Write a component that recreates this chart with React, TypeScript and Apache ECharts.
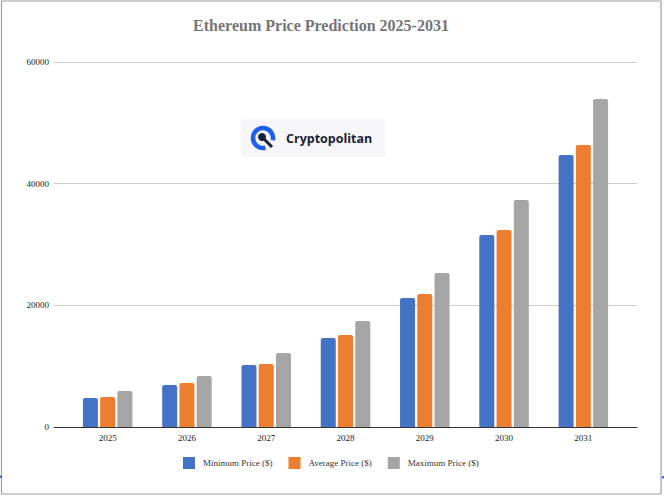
import React, { useEffect, useRef } from "react";
import * as echarts from "echarts";

const categories = ["2025", "2026", "2027", "2028", "2029", "2030", "2031"];
const minPrice = [4770, 6900, 10190, 14630, 21210, 31560, 44720];
const avgPrice = [4930, 7230, 10360, 15120, 21860, 32380, 46360];
const maxPrice = [5920, 8380, 12170, 17430, 25320, 37320, 53920];
const seriesNames = ["Minimum Price ($)", "Average Price ($)", "Maximum Price ($)"];
const colors = ["#4472C4", "#ED7D31", "#A5A5A5"];

export default function App() {
  const ref = useRef<HTMLDivElement>(null);
  useEffect(() => {
    if (!ref.current) return;
    const chart = echarts.init(ref.current, undefined, { renderer: "svg" });
    const serif = "'Liberation Serif', 'Times New Roman', serif";
    const yCommon = { type: "value", min: 0, max: 60000, interval: 20000 };
    const barSeries = [minPrice, avgPrice, maxPrice].map((d, i) => ({
      name: seriesNames[i],
      type: "bar",
      xAxisIndex: 1,
      yAxisIndex: 1,
      data: d,
      barWidth: 15,
      barGap: "15%",
      itemStyle: { color: colors[i], borderRadius: [2, 2, 0, 0] },
    }));
    chart.setOption({
      animation: false,
      backgroundColor: "#ffffff",
      title: {
        text: "Ethereum Price Prediction 2025-2031",
        left: 316,
        top: 12,
        textAlign: "center",
        textStyle: { fontFamily: serif, fontSize: 16, fontWeight: "bold", color: "#757575" },
      },
      legend: {
        data: seriesNames,
        left: 178,
        top: 452,
        itemWidth: 12,
        itemHeight: 12,
        itemGap: 16,
        icon: "rect",
        textStyle: { fontFamily: serif, fontSize: 9, color: "#333", padding: [0, 0, 0, 3] },
      },
      grid: [
        { left: 54, right: 27, top: 62, bottom: 69 },
        { left: 68, right: 41, top: 62, bottom: 69 },
      ],
      xAxis: [
        {
          type: "category",
          gridIndex: 0,
          data: categories,
          axisLine: { show: true, lineStyle: { color: "#333", width: 1 } },
          axisTick: { show: false },
          axisLabel: { show: false },
        },
        {
          type: "category",
          gridIndex: 1,
          data: categories,
          axisLine: { show: false },
          axisTick: { show: false },
          axisLabel: { fontFamily: serif, fontSize: 9, color: "#222", margin: 6 },
        },
      ],
      yAxis: [
        {
          ...yCommon,
          gridIndex: 0,
          axisLine: { show: false },
          axisTick: { show: false },
          splitLine: { show: true, lineStyle: { color: "#cccccc", width: 1 } },
          axisLabel: {
            fontFamily: serif,
            fontSize: 9,
            color: "#222",
            margin: 5,
            formatter: (v: number) => String(v),
          },
        },
        {
          ...yCommon,
          gridIndex: 1,
          show: false,
          splitLine: { show: false },
        },
      ],
      series: barSeries,
      graphic: [
        {
          type: "rect",
          shape: { x: 1.5, y: 1, width: 659.5, height: 493 },
          style: { fill: "none", stroke: "#9e9e9e", lineWidth: 1.2 },
          silent: true,
        },
        { type: "rect", shape: { x: 0, y: 475.5, width: 2, height: 2.5 }, style: { fill: "#3a6fe0" } },
        { type: "rect", shape: { x: 662, y: 476, width: 2, height: 2.5 }, style: { fill: "#3a6fe0" } },
        {
          type: "group",
          children: [
            { type: "rect", shape: { x: 241, y: 119, width: 144, height: 38 }, style: { fill: "#f6f6f8" } },
            {
              type: "arc",
              shape: { cx: 263, cy: 138, r: 10, startAngle: Math.PI / 4 + 0.55, endAngle: Math.PI / 4 - 0.55 + Math.PI * 2, clockwise: true },
              style: { stroke: "#1e5ef0", lineWidth: 4.5, fill: "none" },
            },
            { type: "circle", shape: { cx: 262, cy: 137, r: 4 }, style: { fill: "#1a1f36" } },
            { type: "line", shape: { x1: 263, y1: 138, x2: 272, y2: 147 }, style: { stroke: "#1a1f36", lineWidth: 3 } },
            {
              type: "text",
              style: {
                x: 286,
                y: 138.5,
                text: "Cryptopolitan",
                fontFamily: "'Open Sans', sans-serif",
                fontWeight: "bold",
                fontSize: 12.5,
                fill: "#1a1f36",
                verticalAlign: "middle",
              },
            },
          ],
        },
      ],
    });
    return () => chart.dispose();
  }, []);
  return (
    <div
      ref={ref}
      style={{ position: "fixed", left: 0, top: 0, width: 664, height: 496 }}
    />
  );
}
